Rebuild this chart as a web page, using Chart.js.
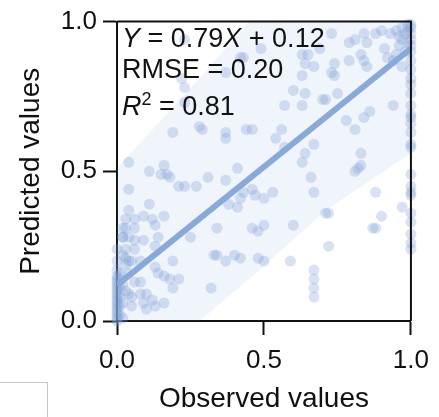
<!DOCTYPE html>
<html>
<head>
<meta charset="utf-8">
<script src="https://cdn.jsdelivr.net/npm/chart.js@4"></script>
<style>
html, body { margin: 0; padding: 0; background: #fff; }
#wrap { position: relative; width: 439px; height: 417px; overflow: hidden; }
#box { position: absolute; left: -2px; top: 382px; width: 48px; height: 40px; border: 1px solid #c6c6c6; }
</style>
</head>
<body>
<div id="wrap">
  <canvas id="myChart" width="439" height="417"></canvas>
  <div id="box"></div>
</div>
<script>
// observed / predicted pairs
let obsX = [
  0, 0, 0, 0, 0, 0, 0, 0, 0, 0, 0, 0, 0, 0, 0, 0, 0, 0, 0,
  0.01, 0.01, 0.01, 0.01, 0.01, 0.01, 0.02, 0.02, 0.02, 0.02, 0.02, 0.03, 0.02, 0.03, 0.04,
  0.23, 0.22, 0.23, 0.23, 0.28, 0.19, 0.04, 0.16, 0.11, 0.15, 0.17, 0.18, 0.21, 0.23, 0.27, 0.31,
  0.04, 0.11, 0.04, 0.03, 0.06, 0.09, 0.12, 0.16, 0.03, 0.06, 0.13, 0.02, 0.04, 0.06, 0.09, 0.14,
  0.25, 0.13, 0.03, 0.06, 0.05, 0.08, 0.13, 0.19, 0.04, 0.14, 0.16, 0.06, 0.08, 0.18, 0.21, 0.19,
  0.32, 0.03, 0.04, 0.05, 0.08, 0.10, 0.12, 0.09, 0.13, 0.16, 0.10, 0.05, 0.33, 0.37,
  0.49, 0.43, 0.63, 0.65, 0.64, 0.67, 0.63, 0.37, 0.60, 0.64, 0.57, 0.63, 0.44, 0.46, 0.37, 0.37,
  0.56, 0.54, 0.57, 0.64, 0.63, 0.41, 0.66, 0.37, 0.46, 0.43, 0.47, 0.50, 0.53, 0.38, 0.41, 0.42,
  0.67, 0.34, 0.46, 0.48, 0.50, 0.60, 0.34, 0.40, 0.42, 0.48, 0.50, 0.59, 0.67, 0.67, 0.67, 0.67,
  0.29, 0.42,
  0.73, 0.79, 0.81, 0.84, 0.85, 0.88, 0.90, 0.69, 0.74, 0.79, 0.83, 0.84, 0.85, 0.91, 0.92, 0.94,
  0.97, 0.74, 0.71, 0.75, 0.94, 0.86, 0.84, 0.78, 0.81, 0.67, 0.83, 0.83, 0.81, 0.82, 0.88, 0.87,
  0.71, 0.90, 0.97, 0.88, 0.72, 0.70, 0.73, 0.72,
  0.95, 0.96, 0.97, 0.98, 0.99, 1.0, 1.0, 1.0, 0.99, 0.97, 0.93, 0.96, 0.98, 1.0, 1.0, 0.95, 1.0, 0.99,
  1.0, 1.0, 1.0, 1.0, 1.0, 1.0, 1.0, 1.0, 1.0, 1.0, 1.0, 1.0, 1.0, 1.0, 1.0, 1.0, 1.0, 1.0, 1.0, 1.0, 1.0
]
let predY = [
  0.00, 0.01, 0.02, 0.03, 0.04, 0.05, 0.06, 0.07, 0.08, 0.09, 0.10, 0.11, 0.12, 0.13, 0.14, 0.15, 0.17, 0.20, 0.24,
  0.02, 0.05, 0.08, 0.11, 0.14, 0.16, 0.01, 0.06, 0.12, 0.22, 0.28, 0.19, 0.31, 0.21, 0.20,
  0.94, 0.81, 0.78, 0.73, 0.65, 0.63, 0.53, 0.52, 0.50, 0.49, 0.49, 0.48, 0.45, 0.45, 0.45, 0.48,
  0.44, 0.39, 0.37, 0.34, 0.34, 0.35, 0.34, 0.35, 0.31, 0.31, 0.32, 0.28, 0.28, 0.27, 0.27, 0.28,
  0.28, 0.25, 0.24, 0.24, 0.20, 0.20, 0.18, 0.20, 0.16, 0.16, 0.15, 0.13, 0.13, 0.14, 0.14, 0.11,
  0.11, 0.10, 0.09, 0.08, 0.09, 0.09, 0.07, 0.06, 0.05, 0.06, 0.04, 0.05, 0.22, 0.20,
  0.91, 0.88, 0.89, 0.89, 0.86, 0.85, 0.82, 0.83, 0.77, 0.76, 0.72, 0.72, 0.64, 0.64, 0.63, 0.61,
  0.64, 0.61, 0.58, 0.56, 0.53, 0.51, 0.48, 0.47, 0.44, 0.43, 0.42, 0.41, 0.43, 0.39, 0.38, 0.41,
  0.43, 0.31, 0.31, 0.30, 0.32, 0.32, 0.22, 0.22, 0.21, 0.21, 0.20, 0.20, 0.17, 0.14, 0.11, 0.08,
  0.64, 0.88,
  0.96, 0.93, 0.94, 0.96, 0.93, 0.96, 0.97, 0.91, 0.86, 0.87, 0.89, 0.87, 0.85, 0.91, 0.88, 0.87,
  0.85, 0.82, 0.74, 0.76, 0.72, 0.70, 0.68, 0.67, 0.64, 0.59, 0.56, 0.52, 0.50, 0.51, 0.43, 0.31,
  0.36, 0.35, 0.38, 0.31, 0.25, 0.74, 0.83, 0.36,
  0.97, 0.95, 0.98, 0.96, 0.97, 0.98, 0.96, 0.94, 0.93, 0.94, 0.96, 0.92, 0.90, 0.92, 0.90, 0.89, 0.99, 0.99,
  0.87, 0.84, 0.81, 0.79, 0.76, 0.72, 0.69, 0.68, 0.66, 0.63, 0.59, 0.58, 0.49, 0.45, 0.43, 0.42, 0.36, 0.33, 0.29, 0.26, 0.24
]
// fitted line  Y = 0.79X + 0.12
let fitX = [0, 1]
let fitY = [0.12, 0.91]
// shaded band edges
let bandX = [0, 0.28, 0.45, 0.71, 1.0]
let bandUpper = [0.51, 0.81, 1.0, 1.0, 1.0]
let bandLower = [0, 0, 0.14, 0.37, 0.56]
let tickLabels = ['0.0', '0.5', '1.0']

let fontFam = '"Liberation Sans", Arial, Helvetica, sans-serif'
let pts = obsX.map((x, i) => ({x: x, y: predY[i]}))
let fitPts = fitX.map((x, i) => ({x: x, y: fitY[i]}))
let upPts = bandX.map((x, i) => ({x: x, y: bandUpper[i]}))
let lowPts = bandX.map((x, i) => ({x: x, y: bandLower[i]}))

function richText(ctx, x, y, parts) {
  parts.forEach(function (p) {
    ctx.font = p.font
    ctx.fillText(p.t, x, y + (p.dy || 0))
    x += ctx.measureText(p.t).width
  })
}

let framePlugin = {
  id: 'frame',
  afterDatasetsDraw(chart) {
    let ctx = chart.ctx, a = chart.chartArea
    ctx.save()
    ctx.strokeStyle = '#111'
    ctx.lineWidth = 2
    ctx.beginPath()
    ctx.moveTo(a.left, a.top)
    ctx.lineTo(a.right, a.top)
    ctx.lineTo(a.right, a.bottom)
    ctx.stroke()
    ctx.fillStyle = '#111'
    ctx.textBaseline = 'alphabetic'
    let f = '27px ' + fontFam, fi = 'italic 27px ' + fontFam
    richText(ctx, a.left + 5, 47, [{t: 'Y', font: fi}, {t: ' = 0.79', font: f}, {t: 'X', font: fi}, {t: ' + 0.12', font: f}])
    richText(ctx, a.left + 5, 78, [{t: 'RMSE = 0.20', font: f}])
    richText(ctx, a.left + 5, 115, [{t: 'R', font: fi}, {t: '2', font: '18px ' + fontFam, dy: -10}, {t: ' = 0.81', font: f}])
    ctx.restore()
  }
}

let ctx = document.getElementById('myChart').getContext('2d')
let axisCommon = {
  type: 'linear', min: 0, max: 1,
  grid: {drawOnChartArea: false, drawTicks: true, tickLength: 14, tickWidth: 2, tickColor: '#111'},
  border: {display: true, color: '#111', width: 2}
}
let myChart = new Chart(ctx, {
  type: 'scatter',
  data: {
    datasets: [
      {data: fitPts, showLine: true, borderColor: 'rgb(137,170,217)', borderWidth: 6, pointRadius: 0, order: 0},
      {data: pts, backgroundColor: 'rgba(125,158,212,0.3)', borderWidth: 0, pointRadius: 5.5, clip: false, order: 1},
      {data: upPts, showLine: true, borderWidth: 0, pointRadius: 0, fill: '+1', backgroundColor: 'rgba(110,150,215,0.1)', order: 2},
      {data: lowPts, showLine: true, borderWidth: 0, pointRadius: 0, fill: false, order: 3}
    ]
  },
  plugins: [framePlugin],
  options: {
    responsive: false, animation: false, events: [],
    layout: {padding: {top: 20, right: 22, left: 0, bottom: 0}},
    plugins: {legend: {display: false}, tooltip: {enabled: false}},
    scales: {
      x: Object.assign({}, axisCommon, {
        ticks: {stepSize: 0.5, color: '#111', font: {family: fontFam, size: 26}, padding: 10,
          callback: (v) => tickLabels[Math.round(v * 2)]},
        title: {display: true, text: 'Observed values', color: '#111', font: {family: fontFam, size: 28}, padding: {top: 0, bottom: 1}},
        afterFit: (s) => { s.height = 96 }
      }),
      y: Object.assign({}, axisCommon, {
        ticks: {stepSize: 0.5, color: '#111', font: {family: fontFam, size: 26}, padding: 6,
          callback: (v) => tickLabels[Math.round(v * 2)]},
        title: {display: true, text: 'Predicted values', color: '#111', font: {family: fontFam, size: 28}, padding: {top: 14, bottom: 0}},
        afterFit: (s) => { s.width = 117 }
      })
    }
  }
})
</script>
</body>
</html>
